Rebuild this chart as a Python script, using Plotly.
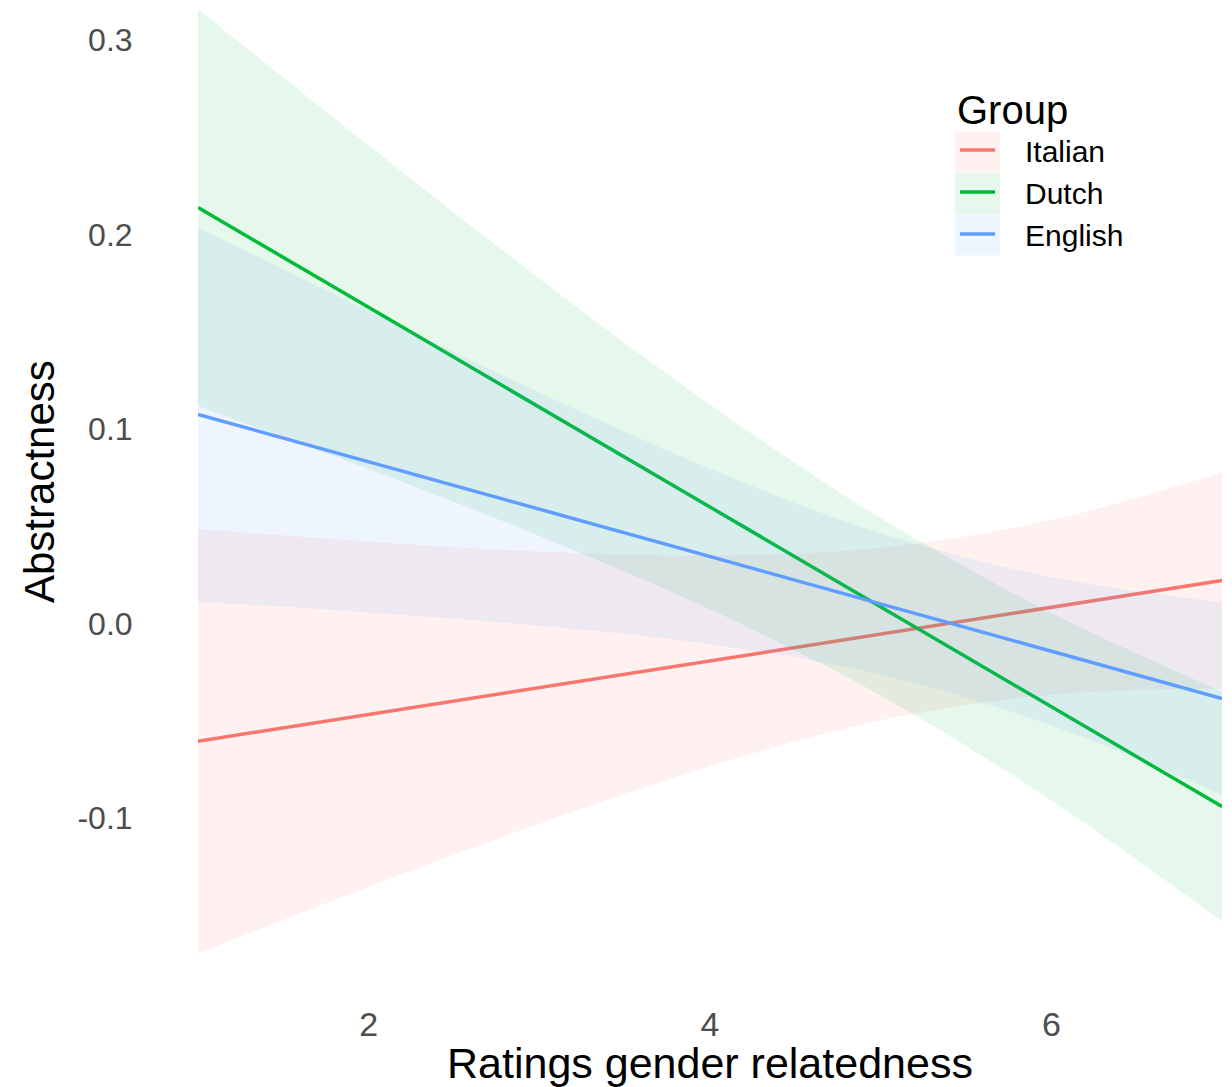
import plotly.graph_objects as go

# ---- data ----
x_vals = [1, 2, 3, 4, 5, 6, 7]
groups = ["Italian", "Dutch", "English"]
colors = ["#F8766D", "#00BA38", "#619CFF"]
fills = ["rgba(248,118,109,0.1)", "rgba(0,186,56,0.1)", "rgba(97,156,255,0.1)"]

italian_fit = [-0.0605, -0.0467, -0.0330, -0.0192, -0.0054, 0.0083, 0.0221]
italian_lo = [-0.1696, -0.1355, -0.1030, -0.0733, -0.0497, -0.0366, -0.0334]
italian_hi = [0.0486, 0.0421, 0.0370, 0.0349, 0.0389, 0.0532, 0.0776]

dutch_fit = [0.2139, 0.1626, 0.1112, 0.0599, 0.0086, -0.0428, -0.0941]
dutch_lo = [0.1119, 0.0794, 0.0450, 0.0073, -0.0370, -0.0910, -0.1532]
dutch_hi = [0.3159, 0.2458, 0.1774, 0.1125, 0.0542, 0.0054, -0.0350]

english_fit = [0.1075, 0.0832, 0.0588, 0.0345, 0.0101, -0.0143, -0.0386]
english_lo = [0.0112, 0.0057, -0.0012, -0.0106, -0.0262, -0.0524, -0.0880]
english_hi = [0.2038, 0.1607, 0.1188, 0.0796, 0.0464, 0.0238, 0.0108]

x_ticks = [2, 4, 6]
y_ticks = [-0.1, 0.0, 0.1, 0.2, 0.3]
y_ticklabels = ["-0.1", "0.0", "0.1", "0.2", "0.3"]

fits = [italian_fit, dutch_fit, english_fit]
los = [italian_lo, dutch_lo, english_lo]
his = [italian_hi, dutch_hi, english_hi]

FONT = "Liberation Sans, Arial, sans-serif"
W, H = 1232, 1087
ML, MR, MT, MB = 198, 10, 0, 92
PW, PH = W - ML - MR, H - MT - MB

fig = go.Figure()
for name, col, fc, fit, lo, hi in zip(groups, colors, fills, fits, los, his):
    fig.add_trace(go.Scatter(x=x_vals, y=hi, mode="lines",
                             line=dict(width=0, shape="spline", color=fc),
                             showlegend=False, hoverinfo="skip"))
    fig.add_trace(go.Scatter(x=x_vals, y=lo, mode="lines", fill="tonexty",
                             fillcolor=fc,
                             line=dict(width=0, shape="spline", color=fc),
                             showlegend=False, hoverinfo="skip"))
    fig.add_trace(go.Scatter(x=x_vals, y=fit, mode="lines",
                             name="\u00a0\u00a0\u00a0" + name,
                             line=dict(width=3.5, color=col)))

# light swatches behind the legend keys (ribbon colour, as in the reference)
shapes = []
item_centers = [152, 193.5, 235]
for c, fc in zip(item_centers, fills):
    shapes.append(dict(type="rect", xref="paper", yref="paper", layer="above",
                       x0=(955 - ML) / PW, x1=(1000 - ML) / PW,
                       y0=1 - (c + 20.5 - MT) / PH, y1=1 - (c - 20.5 - MT) / PH,
                       fillcolor=fc, line=dict(width=0)))

fig.update_layout(
    width=W, height=H,
    margin=dict(l=ML, r=MR, t=MT, b=MB),
    plot_bgcolor="white", paper_bgcolor="white",
    font=dict(family=FONT, color="black"),
    shapes=shapes,
    legend=dict(
        title=dict(text="Group", font=dict(size=40, color="black")),
        font=dict(size=30, color="black"),
        traceorder="normal",
        x=(955 - ML) / PW, y=1 - 72 / PH, xanchor="left", yanchor="top",
        bgcolor="rgba(0,0,0,0)", itemwidth=35,
    ),
    annotations=[
        dict(text="Ratings gender relatedness", xref="paper", yref="paper",
             x=0.5, y=-(1063 - MT - PH) / PH, xanchor="center", yanchor="middle",
             showarrow=False, font=dict(size=43, color="black")),
        dict(text="Abstractness", xref="paper", yref="paper",
             x=-(ML - 40) / PW, y=1 - (482 - MT) / PH, xanchor="center", yanchor="middle",
             textangle=-90, showarrow=False, font=dict(size=42, color="black")),
    ],
)
fig.update_xaxes(range=[1, 7], tickvals=x_ticks, showgrid=False, zeroline=False,
                 showline=False, ticks="", ticklabelstandoff=6,
                 tickfont=dict(size=34, color="#4D4D4D", family=FONT))
fig.update_yaxes(range=[-0.191, 0.3206], tickvals=y_ticks, ticktext=y_ticklabels,
                 showgrid=False, zeroline=False, showline=False,
                 ticks="outside", ticklen=58, tickcolor="rgba(0,0,0,0)",
                 tickfont=dict(size=32, color="#4D4D4D", family=FONT))

fig.write_html("out.html")
